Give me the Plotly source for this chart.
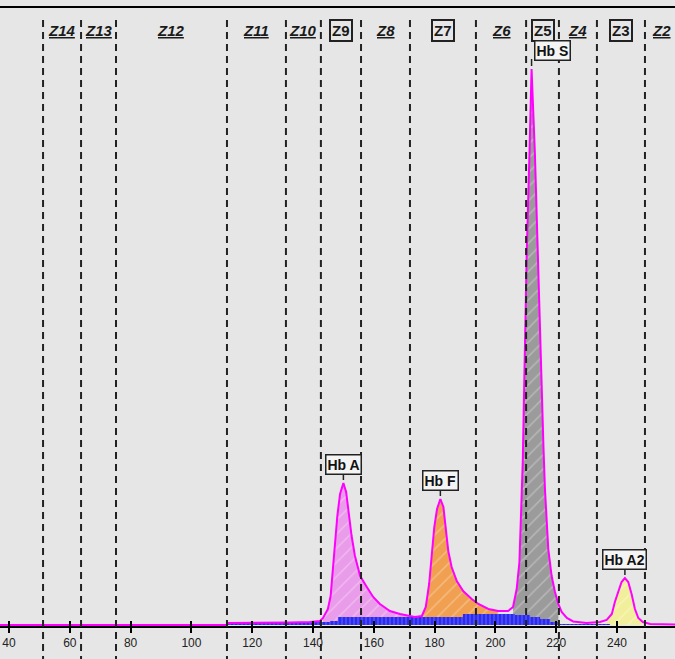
import plotly.graph_objects as go

# ---------------- data ----------------
# electropherogram signal (migration position, signal height)
sig_x = [37.0, 111.7, 112.0, 122.6, 132.4, 139.0, 142.3, 143.3, 144.9, 145.8,
         146.5, 147.2, 148.0, 148.9, 150.0, 150.9, 151.6, 152.7, 153.8, 155.5,
         157.7, 159.8, 162.0, 165.3, 168.6, 171.9, 173.5, 175.8, 177.1, 178.2,
         179.0, 179.9, 180.8, 181.9, 182.9, 183.6, 184.5, 185.6, 187.3, 189.4,
         192.2, 194.4, 197.7, 200.9, 204.2, 205.8, 207.0, 207.9, 208.3, 208.7,
         209.0, 209.2, 209.4, 209.6, 209.9, 210.3, 211.2, 211.9, 213.0, 213.9,
         214.7, 214.9, 215.2, 215.8, 216.3, 216.9, 217.4, 218.5, 219.6, 220.7,
         221.8, 223.5, 225.6, 230.0, 234.4, 236.6, 238.3, 239.3, 240.4, 241.5,
         242.6, 243.7, 244.8, 245.9, 247.0, 248.5, 250.9, 260.0]
sig_y = [0, 0, 2, 2, 2.5, 3, 4, 7, 16, 29,
         56, 86, 109, 131, 142, 133, 116, 89, 69, 49,
         38, 28, 21, 14, 11, 9, 8, 9, 18, 41,
         68, 98, 116, 126, 118, 98, 74, 58, 44, 34,
         26, 21, 16, 14, 14, 18, 36, 63, 96, 129,
         163, 196, 229, 263, 296, 371, 471, 556, 471, 371,
         296, 263, 229, 179, 136, 103, 76, 49, 33, 21,
         13, 7, 3.5, 2, 3, 5, 11, 23, 34, 43,
         47, 43, 31, 16, 7, 3, 1, 0.5]

# blue baseline-noise band (step heights)
blue_x = [111.7, 135.7, 145.6, 148.2, 189.3, 206.4, 211.4, 214.7, 218.0, 220.6, 222.9, 237.7]
blue_y = [2, 3, 4, 8, 11, 10, 8, 6, 3, 1, 1, 0]

# zones
zone_edges = [51.2, 63.7, 75.2, 111.7, 131.1, 142.6, 155.8, 171.9, 193.6,
              210.1, 220.9, 233.4, 249.2, 260.4]
zone_names = ["Z14", "Z13", "Z12", "Z11", "Z10", "Z9", "Z8", "Z7", "Z6",
              "Z5", "Z4", "Z3", "Z2"]
zone_boxed = ["Z9", "Z7", "Z5", "Z3"]

# identified fractions
peak_names = ["Hb A", "Hb F", "Hb S", "Hb A2"]
peak_windows = [(142.6, 171.9), (171.9, 203.0), (205.5, 220.9), (236.0, 248.5)]
peak_colors = ["#e99ce9", "#f0a050", "#9b9b9b", "#f2ef9c"]
peak_label_dx = [0, 0, 21, 0]

tick_vals = [40, 60, 80, 100, 120, 140, 160, 180, 200, 220, 240]
title_text = "Capillary Study of Sickle Hemoglobin Zone Assay"

BG = "#e6e6e6"
FONT = "Arial, Liberation Sans, sans-serif"

fig = go.Figure()

# filled fractions
for (lo, hi), col in zip(peak_windows, peak_colors):
    xs = [x for x in sig_x if lo <= x <= hi]
    ys = [y for x, y in zip(sig_x, sig_y) if lo <= x <= hi]
    fig.add_trace(go.Scatter(
        x=xs, y=ys, mode="lines", line=dict(width=0), fill="tozeroy",
        fillcolor=col,
        fillpattern=dict(shape="/", bgcolor=col, fgcolor="rgba(255,255,255,0.6)",
                         size=10, solidity=0.15),
        hoverinfo="skip"))

# blue noise band
fig.add_trace(go.Scatter(
    x=blue_x, y=blue_y, mode="lines", line=dict(width=0, shape="hv"),
    fill="tozeroy", fillcolor="#2b2bf0",
    fillpattern=dict(shape="|", bgcolor="#2b2bf0", fgcolor="#8c8cff",
                     size=4, solidity=0.3),
    hoverinfo="skip"))

# magenta trace (on overlay axis carrying inward ticks)
fig.add_trace(go.Scatter(
    x=sig_x, y=sig_y, mode="lines", xaxis="x2",
    line=dict(color="#ff00ff", width=2), hoverinfo="skip"))

shapes = []
# dashed zone boundaries
for e in zone_edges:
    shapes.append(dict(type="line", xref="x", yref="paper", x0=e, x1=e,
                       y0=0.9806, y1=-0.08, layer="above",
                       line=dict(color="#222222", width=2, dash="7px,5px")))

annotations = []
# zone labels
for i, name in enumerate(zone_names):
    cx = (zone_edges[i] + zone_edges[i + 1]) / 2
    if name in zone_boxed:
        annotations.append(dict(
            x=cx, y=1, xref="x", yref="paper", yanchor="middle", yshift=-22,
            text="<b>%s</b>" % name, showarrow=False,
            font=dict(family=FONT, size=15, color="#1a1a1a"),
            bordercolor="#222222", borderwidth=2, borderpad=1, bgcolor=BG))
    else:
        annotations.append(dict(
            x=cx, y=1, xref="x", yref="paper", yanchor="middle", yshift=-22,
            text="<b><i><u>%s</u></i></b>" % name, showarrow=False,
            font=dict(family=FONT, size=15, color="#1a1a1a")))

# peak labels + connector ticks
for (lo, hi), name, dx in zip(peak_windows, peak_names, peak_label_dx):
    pts = [(x, y) for x, y in zip(sig_x, sig_y) if lo <= x <= hi]
    px_, py_ = max(pts, key=lambda p: p[1])
    annotations.append(dict(
        x=px_, y=py_, xref="x", yref="y", yanchor="middle", xshift=dx, yshift=19,
        text="<b>%s</b>" % name, showarrow=False,
        font=dict(family=FONT, size=14, color="#111111"),
        bordercolor="#222222", borderwidth=1.5, borderpad=1, bgcolor="#f4f4f4"))
    shapes.append(dict(type="line", xref="x", yref="y", ysizemode="pixel",
                       yanchor=py_, x0=px_, x1=px_, y0=3, y1=10, layer="above",
                       line=dict(color="#222222", width=1.5)))

# red header (mostly outside the cropped view, as in the reference)
annotations.append(dict(
    x=-48 / 675, y=1, xref="paper", yref="paper", xanchor="left", yanchor="bottom",
    yshift=5, text="<b>%s</b>" % title_text, showarrow=False,
    font=dict(family=FONT, size=26, color="#e00000")))

fig.update_layout(
    width=675, height=659,
    margin=dict(l=0, r=0, t=8, b=33, autoexpand=False),
    paper_bgcolor=BG, plot_bgcolor=BG,
    showlegend=False,
    shapes=shapes, annotations=annotations,
    xaxis=dict(range=[37.04, 259.08], tickvals=tick_vals, ticks="outside",
               ticklen=5, tickwidth=1.5, tickcolor="black", automargin=False,
               showline=True, linecolor="black", linewidth=2, mirror=True,
               showgrid=False, zeroline=False,
               tickfont=dict(family=FONT, size=12, color="#222222")),
    xaxis2=dict(overlaying="x", matches="x", anchor="y", side="bottom",
                tickvals=tick_vals, ticks="inside", ticklen=5, tickwidth=1.5,
                tickcolor="black", showticklabels=False, showline=False,
                showgrid=False, zeroline=False, automargin=False),
    yaxis=dict(range=[-1, 617], visible=False, showgrid=False, zeroline=False,
               automargin=False),
)

fig.write_html(
    "out.html",
    config={"displayModeBar": False},
    post_script="document.body.style.margin='0px';"
                "document.body.style.background='%s';" % BG,
)
